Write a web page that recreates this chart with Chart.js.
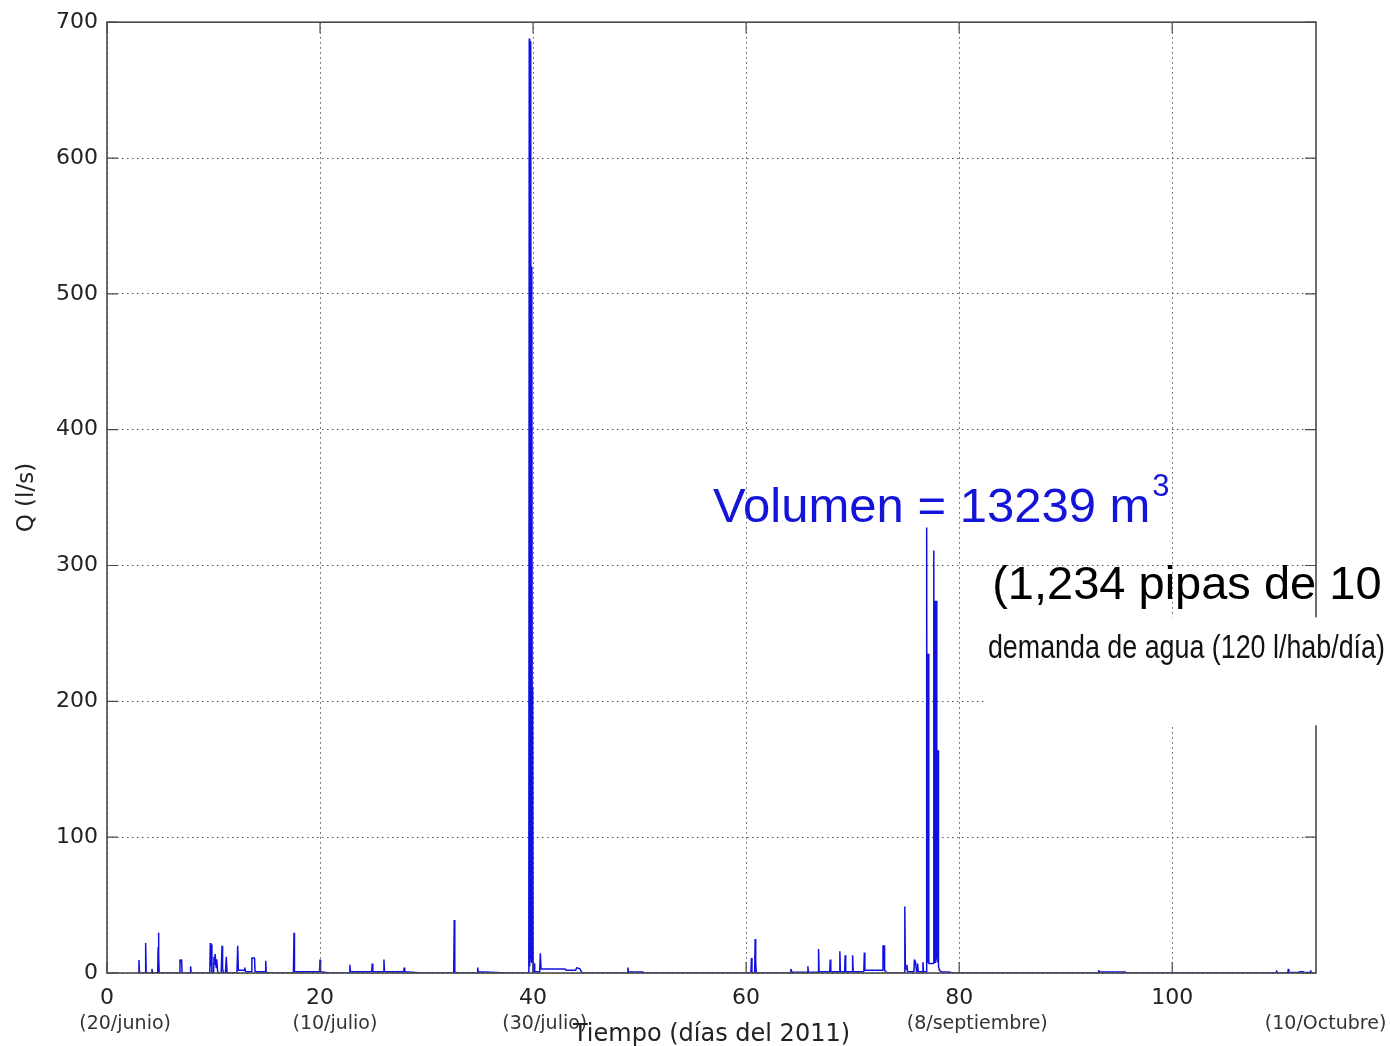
<!DOCTYPE html>
<html>
<head>
<meta charset="utf-8">
<script src="https://cdn.jsdelivr.net/npm/chart.js@4.4.1/dist/chart.umd.min.js"></script>
<style>
  html, body { margin: 0; padding: 0; background: #fff; }
  canvas { display: block; }
</style>
</head>
<body>
<canvas id="hidrograma" width="1390" height="1046"></canvas>
<script>
const dias = [
  2.95, 3.0, 3.05, 3.58, 3.63, 3.68, 4.17, 4.22, 4.27, 4.76, 4.8, 4.83, 4.87, 4.9,
  6.8, 6.85, 6.92, 7.0, 7.05, 7.8, 7.85, 7.9,
  9.65, 9.7, 9.75, 9.8, 9.85, 10.0, 10.05, 10.1, 10.15, 10.25, 10.3, 10.4, 10.72, 10.8, 10.85, 10.95, 11.12, 11.2, 11.27,
  12.2, 12.27, 12.33, 12.9, 12.93, 13.0, 13.55, 13.6, 13.85, 13.9, 14.85, 14.9, 14.95,
  17.5, 17.56, 17.6, 19.95, 20.0, 20.05, 20.9,
  22.75, 22.8, 22.85, 24.85, 24.9, 24.95, 25.95, 26.0, 26.05, 27.85, 27.9, 27.95, 29.5,
  32.55, 32.6, 32.65, 33.0, 34.75, 34.8, 34.85, 37.6,
  39.6, 39.64, 39.68, 39.72, 39.76, 39.8, 39.84, 39.88, 39.92, 39.96, 40.0,
  40.05, 40.1, 40.15, 40.62, 40.68, 40.75, 43.0, 43.1, 44.0, 44.1, 44.4, 44.6,
  48.85, 48.9, 48.95, 50.3, 50.35,
  60.45, 60.5, 60.55, 60.8, 60.85, 60.9, 60.95,
  64.15, 64.2, 64.3, 65.75, 65.8, 65.85, 66.75, 66.8, 66.85, 67.85, 67.9, 67.95, 68.75, 68.8, 68.85,
  69.25, 69.3, 69.35, 69.95, 70.0, 70.05, 71.05, 71.1, 71.15, 72.8, 72.85, 72.95, 73.0, 73.2,
  74.85, 74.9, 74.95, 75.05, 75.1, 75.15, 75.75, 75.8, 75.9, 76.0, 76.05, 76.1, 76.15, 76.55, 76.6, 76.65,
  76.9, 76.95, 76.99, 77.03, 77.07, 77.11, 77.15,
  77.55, 77.62, 77.66, 77.7, 77.74, 77.78, 77.82, 77.86, 77.9, 77.94, 77.98, 78.02, 78.06, 78.15, 78.3, 79.2, 79.25,
  93.05, 93.1, 93.15, 95.6, 95.65,
  109.75, 109.8, 109.85, 110.85, 110.9, 110.95, 111.9, 112.0, 112.3, 112.35, 112.95, 113.0, 113.05
];
const caudal = [
  0, 9.5, 0, 0, 22, 0, 0, 3, 0, 0, 19, 29.6, 12, 0,
  0, 10, 8, 10, 0, 0, 5, 0,
  0, 22, 5, 21, 0, 0, 12, 6, 14, 4, 10, 0, 0, 20, 3, 0, 0, 12, 0,
  0, 20, 2, 2, 4, 1, 1, 11, 11, 1, 1, 9, 0,
  0, 29.6, 1, 1, 10, 1, 0,
  0, 6, 1, 1, 7, 1, 1, 10, 1, 1, 4, 1, 0,
  0, 39, 0.5, 0, 0, 4, 1, 0,
  0, 688, 5, 686, 10, 684, 8, 520, 120, 210, 0,
  7, 7, 1, 1, 14.5, 3, 3, 2, 2, 4, 3, 0,
  0, 4, 0.8, 0.8, 0,
  0, 11, 0, 0, 25, 8, 0,
  0, 3, 0.5, 0.5, 5, 0.5, 0.5, 17.6, 1, 1, 10, 1, 1, 16, 1,
  1, 13, 1, 1, 13, 1, 1, 15, 2, 2, 20, 20, 2, 0,
  0, 49, 3, 3, 6, 1, 1, 10, 8, 1, 1, 7, 1, 1, 8, 1,
  1, 328, 8, 235, 8, 235, 7,
  7, 311, 8, 274, 8, 274, 8, 274, 10, 164, 8, 164, 5, 2, 1, 0.5, 0,
  0, 2, 0.8, 0.8, 0,
  0, 2, 0, 0, 3, 0.3, 0.3, 1, 1, 0.3, 0.3, 2, 0
];

const ticksX = [0, 20, 40, 60, 80, 100];
const ticksY = [0, 100, 200, 300, 400, 500, 600, 700];
const fechas = ['(20/junio)', '(10/julio)', '(30/julio)', '(8/septiembre)', '(10/Octubre)'];
const fechaDia = [1.7, 21.4, 41.1, 81.7, 114.4];

const tickFont = { family: 'DejaVu Sans', size: 22 };

// marco, marcas hacia dentro y textos sobre la grafica
const extras = {
  id: 'extras',
  afterDraw(chart) {
    const ctx = chart.ctx;
    const a = chart.chartArea;
    const sx = chart.scales.x, sy = chart.scales.y;
    ctx.save();

    ctx.strokeStyle = '#4a4a4a';
    ctx.lineWidth = 1.6;
    ctx.strokeRect(a.left, a.top, a.right - a.left, a.bottom - a.top);

    ctx.lineWidth = 1.2;
    ctx.beginPath();
    ticksX.forEach(v => {
      const px = sx.getPixelForValue(v);
      ctx.moveTo(px, a.bottom); ctx.lineTo(px, a.bottom - 11);
      ctx.moveTo(px, a.top); ctx.lineTo(px, a.top + 11);
    });
    ticksY.forEach(v => {
      const py = sy.getPixelForValue(v);
      ctx.moveTo(a.left, py); ctx.lineTo(a.left + 11, py);
      ctx.moveTo(a.right, py); ctx.lineTo(a.right - 11, py);
    });
    ctx.stroke();

    // fechas bajo el eje x
    ctx.fillStyle = '#333';
    ctx.font = '19px "DejaVu Sans"';
    ctx.textAlign = 'center';
    ctx.textBaseline = 'middle';
    fechas.forEach((f, i) => ctx.fillText(f, sx.getPixelForValue(fechaDia[i]), 1024));

    // titulos de ejes
    ctx.fillStyle = '#222';
    ctx.font = '24px "DejaVu Sans"';
    ctx.textBaseline = 'alphabetic';
    ctx.fillText('Tiempo (días del 2011)', (a.left + a.right) / 2, 1041);
    ctx.save();
    ctx.translate(33, (a.top + a.bottom) / 2);
    ctx.rotate(-Math.PI / 2);
    ctx.font = '23px "DejaVu Sans"';
    ctx.fillText('Q (l/s)', 0, 0);
    ctx.restore();

    // volumen
    ctx.textAlign = 'left';
    ctx.fillStyle = '#1414d8';
    ctx.font = '49px "Liberation Sans"';
    const vx = sx.getPixelForValue(56.9), vy = sy.getPixelForValue(332);
    const vTxt = 'Volumen = 13239 m';
    ctx.fillText(vTxt, vx, vy);
    const vw = ctx.measureText(vTxt).width;
    ctx.font = '31px "Liberation Sans"';
    ctx.fillText('3', vx + vw + 2, vy - 26);

    // recuadro blanco y texto de demanda
    const bx = sx.getPixelForValue(82.4);
    const by = sy.getPixelForValue(261.8);
    ctx.fillStyle = '#fff';
    ctx.fillRect(bx, by, chart.width - bx, sy.getPixelForValue(182.4) - by);

    ctx.fillStyle = '#000';
    ctx.font = '47px "Liberation Sans"';
    ctx.fillText('(1,234 pipas de 10', sx.getPixelForValue(83.1), sy.getPixelForValue(275.7));

    const dTxt = 'demanda de agua (120 l/hab/día)';
    ctx.font = '33px "Liberation Sans"';
    const dw = ctx.measureText(dTxt).width;
    const dx = sx.getPixelForValue(82.7), dy = sy.getPixelForValue(232);
    ctx.save();
    ctx.translate(dx, dy);
    ctx.scale(397 / dw, 1);
    ctx.fillStyle = '#111';
    ctx.fillText(dTxt, 0, 0);
    ctx.restore();

    ctx.restore();
  }
};

const ctx = document.getElementById('hidrograma').getContext('2d');
new Chart(ctx, {
  type: 'line',
  data: {
    datasets: [{
      label: 'Q',
      data: dias.map((d, i) => ({ x: d, y: caudal[i] })),
      borderColor: '#1010e0',
      borderWidth: 1.5,
      borderJoinStyle: 'bevel',
      pointRadius: 0,
      tension: 0,
      fill: false
    }]
  },
  options: {
    responsive: false,
    animation: false,
    layout: { padding: { top: 21, right: 74, left: 0, bottom: 0 } },
    plugins: { legend: { display: false }, tooltip: { enabled: false } },
    scales: {
      x: {
        type: 'linear',
        min: 0,
        max: 113.5,
        ticks: { stepSize: 20, includeBounds: false, padding: 12, maxRotation: 0, font: tickFont, color: '#222' },
        grid: { color: '#555', drawTicks: false, lineWidth: 1 },
        border: { display: false, dash: [1.5, 3.5] },
        afterFit(s) { s.height = 73; }
      },
      y: {
        min: 0,
        max: 700,
        ticks: { stepSize: 100, padding: 9, font: tickFont, color: '#222' },
        grid: { color: '#555', drawTicks: false, lineWidth: 1 },
        border: { display: false, dash: [1.5, 3.5] },
        afterFit(s) { s.width = 107; }
      }
    }
  },
  plugins: [extras]
});
</script>
</body>
</html>
